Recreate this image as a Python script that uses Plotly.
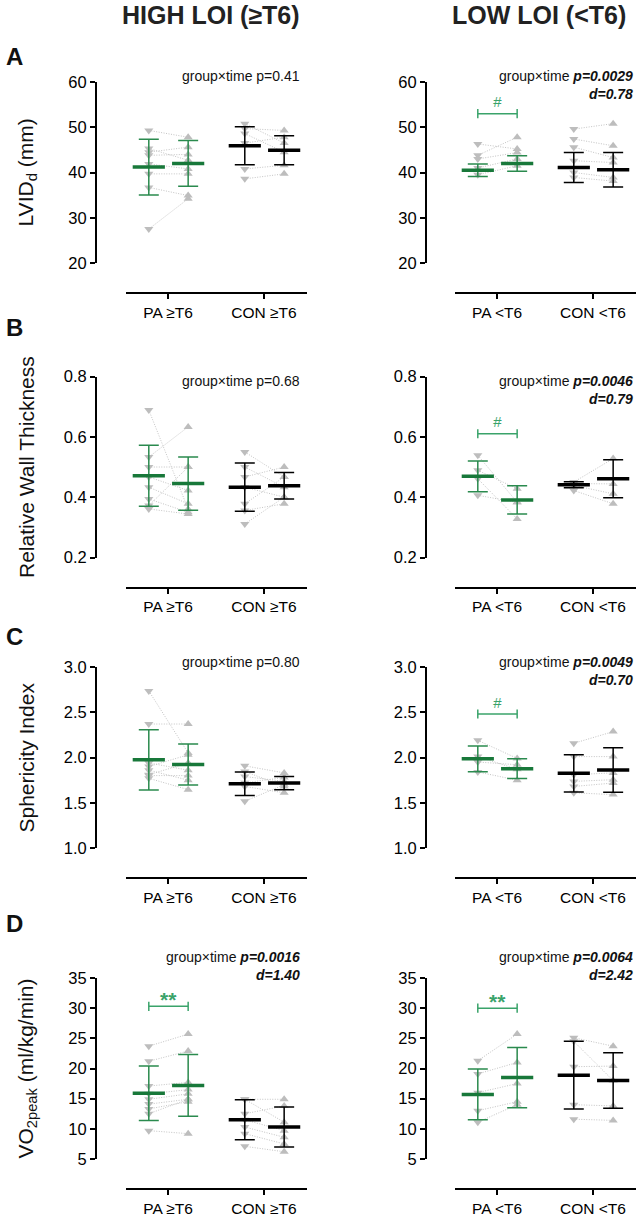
import plotly.graph_objects as go

# ---------------- data ----------------
CATEGORIES_HIGH = ["PA ≥T6", "CON ≥T6"]
CATEGORIES_LOW = ["PA <T6", "CON <T6"]
COLUMN_TITLES = ["HIGH LOI (≥T6)", "LOW LOI (<T6)"]
PANEL_LETTERS = ["A", "B", "C", "D"]
Y_TITLES = ["LVID<sub>d</sub> (mm)", "Relative Wall Thickness", "Sphericity Index",
            "VO<sub>2peak</sub> (ml/kg/min)"]

Y_RANGES = [[20, 60], [0.2, 0.8], [1.0, 3.0], [5, 35]]
Y_TICKS = [[20, 30, 40, 50, 60], [0.2, 0.4, 0.6, 0.8], [1.0, 1.5, 2.0, 2.5, 3.0],
           [5, 10, 15, 20, 25, 30, 35]]
Y_TICKFORMAT = ["d", ".1f", ".1f", "d"]

# LVIDd
LVID_HIGH_PA_PRE = [49.3, 45.3, 44.5, 43.8, 41.9, 39.7, 36.7, 27.5]
LVID_HIGH_PA_POST = [47.8, 42.7, 45.6, 44.0, 40.8, 39.7, 34.9, 34.2]
LVID_HIGH_CON_PRE = [50.8, 49.7, 48.6, 46.5, 40.8, 38.6]
LVID_HIGH_CON_POST = [46.5, 49.3, 44.5, 47.8, 41.6, 39.7]
LVID_HIGH_MEAN = [41.2, 42.0, 45.9, 44.9]
LVID_HIGH_SD = [6.15, 5.05, 4.2, 3.2]
LVID_LOW_PA_PRE = [46.3, 43.8, 43.0, 41.0, 39.5]
LVID_LOW_PA_POST = [45.2, 47.8, 44.4, 43.0, 41.5]
LVID_LOW_CON_PRE = [49.6, 47.4, 45.6, 42.6, 40.0, 38.9]
LVID_LOW_CON_POST = [50.8, 45.9, 43.3, 42.2, 38.9, 38.1]
LVID_LOW_MEAN = [40.5, 42.0, 41.1, 40.6]
LVID_LOW_SD = [1.4, 1.7, 3.3, 3.8]

# Relative wall thickness
RWT_HIGH_PA_PRE = [0.689, 0.533, 0.50, 0.467, 0.433, 0.394, 0.372, 0.361]
RWT_HIGH_PA_POST = [0.36, 0.633, 0.50, 0.422, 0.378, 0.35, 0.50, 0.344]
RWT_HIGH_CON_PRE = [0.55, 0.50, 0.467, 0.433, 0.378, 0.356, 0.311]
RWT_HIGH_CON_POST = [0.467, 0.433, 0.50, 0.40, 0.467, 0.378, 0.40]
RWT_HIGH_MEAN = [0.471, 0.445, 0.433, 0.438]
RWT_HIGH_SD = [0.101, 0.088, 0.080, 0.044]
RWT_LOW_PA_PRE = [0.539, 0.489, 0.461, 0.406]
RWT_LOW_PA_POST = [0.383, 0.428, 0.328, 0.383]
RWT_LOW_CON_PRE = [0.45, 0.445, 0.439, 0.422]
RWT_LOW_CON_POST = [0.528, 0.444, 0.411, 0.378]
RWT_LOW_MEAN = [0.469, 0.391, 0.441, 0.461]
RWT_LOW_SD = [0.051, 0.047, 0.010, 0.063]

# Sphericity index
SI_HIGH_PA_PRE = [2.736, 2.37, 1.94, 1.90, 1.86, 1.81, 1.77, 1.80]
SI_HIGH_PA_POST = [2.05, 2.37, 1.86, 2.03, 1.75, 1.94, 1.645, 1.80]
SI_HIGH_CON_PRE = [1.908, 1.846, 1.79, 1.68, 1.516, 1.72]
SI_HIGH_CON_POST = [1.83, 1.68, 1.736, 1.61, 1.70, 1.78]
SI_HIGH_MEAN = [1.975, 1.922, 1.71, 1.718]
SI_HIGH_SD = [0.333, 0.226, 0.131, 0.073]
SI_LOW_PA_PRE = [2.19, 2.01, 1.95, 1.84]
SI_LOW_PA_POST = [1.99, 1.87, 1.92, 1.75]
SI_LOW_CON_PRE = [2.157, 2.01, 1.81, 1.736, 1.68, 1.61]
SI_LOW_CON_POST = [2.286, 2.01, 1.83, 1.755, 1.718, 1.59]
SI_LOW_MEAN = [1.985, 1.877, 1.825, 1.862]
SI_LOW_SD = [0.143, 0.108, 0.206, 0.246]

# VO2peak
VO2_HIGH_PA_PRE = [23.7, 21.2, 17.1, 15.8, 14.9, 14.1, 13.3, 12.5, 9.7]
VO2_HIGH_PA_POST = [25.7, 22.9, 17.7, 16.5, 15.8, 14.9, 14.5, 14.9, 9.2]
VO2_HIGH_CON_PRE = [14.9, 14.9, 12.5, 11.5, 10.3, 9.2, 7.1]
VO2_HIGH_CON_POST = [14.9, 11.1, 13.8, 9.7, 8.6, 7.5, 6.2]
VO2_HIGH_MEAN = [15.9, 17.2, 11.5, 10.3]
VO2_HIGH_SD = [4.5, 5.1, 3.3, 3.3]
VO2_LOW_PA_PRE = [21.3, 19.1, 16.0, 13.0, 11.1]
VO2_LOW_PA_POST = [25.7, 21.0, 17.5, 14.5, 14.0]
VO2_LOW_CON_PRE = [25.1, 24.5, 20.3, 14.0, 11.6]
VO2_LOW_CON_POST = [23.7, 18.0, 20.4, 13.8, 11.4]
VO2_LOW_MEAN = [15.7, 18.5, 18.9, 18.0]
VO2_LOW_SD = [4.2, 5.0, 5.6, 4.6]

STAT_HIGH = ["group×time p=0.41", "group×time p=0.68", "group×time p=0.80",
             "group×time <b><i>p=0.0016</i></b><br><b><i>d=1.40</i></b>"]
STAT_LOW = ["group×time <b><i>p=0.0029</i></b><br><b><i>d=0.78</i></b>",
            "group×time <b><i>p=0.0046</i></b><br><b><i>d=0.79</i></b>",
            "group×time <b><i>p=0.0049</i></b><br><b><i>d=0.70</i></b>",
            "group×time <b><i>p=0.0064</i></b><br><b><i>d=2.42</i></b>"]
BRACKET_HIGH = [None, None, None, 30.3]
BRACKET_LOW = [53.0, 0.61, 2.48, 30.0]
BRACKET_MARK_HIGH = [None, None, None, "**"]
BRACKET_MARK_LOW = ["#", "#", "#", "**"]

PANELS = [
    [(LVID_HIGH_PA_PRE, LVID_HIGH_PA_POST, LVID_HIGH_CON_PRE, LVID_HIGH_CON_POST, LVID_HIGH_MEAN, LVID_HIGH_SD),
     (LVID_LOW_PA_PRE, LVID_LOW_PA_POST, LVID_LOW_CON_PRE, LVID_LOW_CON_POST, LVID_LOW_MEAN, LVID_LOW_SD)],
    [(RWT_HIGH_PA_PRE, RWT_HIGH_PA_POST, RWT_HIGH_CON_PRE, RWT_HIGH_CON_POST, RWT_HIGH_MEAN, RWT_HIGH_SD),
     (RWT_LOW_PA_PRE, RWT_LOW_PA_POST, RWT_LOW_CON_PRE, RWT_LOW_CON_POST, RWT_LOW_MEAN, RWT_LOW_SD)],
    [(SI_HIGH_PA_PRE, SI_HIGH_PA_POST, SI_HIGH_CON_PRE, SI_HIGH_CON_POST, SI_HIGH_MEAN, SI_HIGH_SD),
     (SI_LOW_PA_PRE, SI_LOW_PA_POST, SI_LOW_CON_PRE, SI_LOW_CON_POST, SI_LOW_MEAN, SI_LOW_SD)],
    [(VO2_HIGH_PA_PRE, VO2_HIGH_PA_POST, VO2_HIGH_CON_PRE, VO2_HIGH_CON_POST, VO2_HIGH_MEAN, VO2_HIGH_SD),
     (VO2_LOW_PA_PRE, VO2_LOW_PA_POST, VO2_LOW_CON_PRE, VO2_LOW_CON_POST, VO2_LOW_MEAN, VO2_LOW_SD)],
]

# ---------------- layout / style ----------------
W, H = 640, 1217
FONT = "Liberation Sans, Arial, Helvetica, sans-serif"
GREEN_MEAN = "#18783a"
GREEN_ERR = "#2a8a4e"
GREEN_BRACKET = "#3aa36a"
GRAY_PT = "#bdbdbd"
GRAY_LINE = "#c4c4c4"

COL_YAXIS_PX = [96, 426]
COL_XDOM_PX = [(126, 307), (455, 636)]
ROW_TOP_PX = [82, 376.5, 667, 978]
ROW_BOT_PX = [263, 557.5, 848, 1159]
XAXIS_GAP_PX = 30
STAT_Y_PX = [75, 380, 661, 956]
LETTER_Y_PX = [57, 327, 636, 923]
XRANGE = [0.5625, 2.448]
PRE_OFF, POST_OFF = -0.2, 0.21


def fx(p):
    return p / W


def fy(p):
    return 1 - p / H


fig = go.Figure()
layout = dict(width=W, height=H,
              margin=dict(l=0, r=0, t=0, b=0, pad=0, autoexpand=False),
              paper_bgcolor="white", plot_bgcolor="rgba(0,0,0,0)",
              showlegend=False, font=dict(family=FONT, color="black"))
annotations = []

for r in range(4):
    for c in range(2):
        k = r * 2 + c + 1
        xa, ya = ("x" if k == 1 else f"x{k}"), ("y" if k == 1 else f"y{k}")
        pa_pre, pa_post, con_pre, con_post, means, sds = PANELS[r][c]
        cats = CATEGORIES_HIGH if c == 0 else CATEGORIES_LOW

        # connecting dotted lines
        lx, ly = [], []
        for base, pre, post in ((1, pa_pre, pa_post), (2, con_pre, con_post)):
            for a, b in zip(pre, post):
                lx += [base + PRE_OFF, base + POST_OFF, None]
                ly += [a, b, None]
        fig.add_trace(go.Scatter(x=lx, y=ly, mode="lines", xaxis=xa, yaxis=ya,
                                 line=dict(color=GRAY_LINE, width=1, dash="1px,1.5px"),
                                 hoverinfo="skip"))
        # individual points
        for base, vals, sym in ((1, pa_pre, "triangle-down"), (1, pa_post, "triangle-up"),
                                (2, con_pre, "triangle-down"), (2, con_post, "triangle-up")):
            off = PRE_OFF if sym == "triangle-down" else POST_OFF
            fig.add_trace(go.Scatter(x=[base + off] * len(vals), y=vals, mode="markers",
                                     xaxis=xa, yaxis=ya,
                                     marker=dict(symbol=sym, size=8, color=GRAY_PT, line=dict(width=0))))
        # mean and SD
        positions = [1 + PRE_OFF, 1 + POST_OFF, 2 + PRE_OFF, 2 + POST_OFF]
        for i in range(4):
            is_pa = i < 2
            fig.add_trace(go.Scatter(
                x=[positions[i]], y=[means[i]], mode="markers", xaxis=xa, yaxis=ya,
                error_y=dict(type="data", array=[sds[i]], width=10, thickness=1.5,
                             color=GREEN_ERR if is_pa else "black"),
                marker=dict(symbol="line-ew", size=23,
                            line=dict(width=3.5, color=GREEN_MEAN if is_pa else "black"))))

        # significance bracket
        b = (BRACKET_HIGH if c == 0 else BRACKET_LOW)[r]
        mark = (BRACKET_MARK_HIGH if c == 0 else BRACKET_MARK_LOW)[r]
        if b is not None:
            fig.add_trace(go.Scatter(x=[1 + PRE_OFF, 1 + POST_OFF], y=[b, b], mode="lines+markers",
                                     xaxis=xa, yaxis=ya,
                                     line=dict(color=GREEN_BRACKET, width=1.5),
                                     marker=dict(symbol="line-ns", size=6.5,
                                                 line=dict(width=1.5, color=GREEN_BRACKET))))
            if mark == "#":
                annotations.append(dict(x=1 + (PRE_OFF + POST_OFF) / 2, y=b, xref=xa, yref=ya,
                                        text="<i>#</i>", showarrow=False, yshift=12,
                                        font=dict(size=15, color=GREEN_BRACKET)))
            else:
                annotations.append(dict(x=1 + (PRE_OFF + POST_OFF) / 2, y=b, xref=xa, yref=ya,
                                        text="<b>**</b>", showarrow=False, yshift=7,
                                        font=dict(size=21, color=GREEN_BRACKET)))

        xdom = COL_XDOM_PX[c]
        layout["xaxis" if k == 1 else f"xaxis{k}"] = dict(
            domain=[fx(xdom[0]), fx(xdom[1])], range=XRANGE, anchor="free",
            position=fy(ROW_BOT_PX[r] + XAXIS_GAP_PX), automargin=False,
            tickmode="array", tickvals=[1, 2], ticktext=cats,
            showline=True, linecolor="black", linewidth=2, ticks="outside",
            ticklen=5, tickwidth=2, tickcolor="black", showgrid=False, zeroline=False,
            tickfont=dict(size=15.5, family=FONT, color="black"), fixedrange=True)
        layout["yaxis" if k == 1 else f"yaxis{k}"] = dict(
            domain=[fy(ROW_BOT_PX[r]), fy(ROW_TOP_PX[r])], range=Y_RANGES[r], anchor="free",
            position=fx(COL_YAXIS_PX[c]), automargin=False, tickmode="array",
            tickvals=Y_TICKS[r], tickformat=Y_TICKFORMAT[r],
            showline=True, linecolor="black", linewidth=2, ticks="outside",
            ticklen=5, tickwidth=2, tickcolor="black", showgrid=False, zeroline=False,
            tickfont=dict(size=16.5, family=FONT, color="black"), fixedrange=True)

        # stats text
        stat = (STAT_HIGH if c == 0 else STAT_LOW)[r]
        annotations.append(dict(x=fx(302 if c == 0 else 635), y=fy(STAT_Y_PX[r] - 9),
                                xref="paper", yref="paper", xanchor="right", yanchor="top",
                                align="right", text=stat, showarrow=False,
                                font=dict(size=14, family=FONT, color="#111111")))

    # panel letter and y title
    annotations.append(dict(x=fx(14), y=fy(LETTER_Y_PX[r]), xref="paper", yref="paper",
                            text=f"<b>{PANEL_LETTERS[r]}</b>", showarrow=False,
                            xanchor="center", yanchor="middle",
                            font=dict(size=24, family=FONT, color="#111111")))
    annotations.append(dict(x=fx(26), y=fy((ROW_TOP_PX[r] + ROW_BOT_PX[r]) / 2),
                            xref="paper", yref="paper", text=Y_TITLES[r], textangle=-90,
                            showarrow=False, xanchor="center", yanchor="middle",
                            font=dict(size=21, family=FONT, color="#111111")))

for c, cx in enumerate([211, 539]):
    annotations.append(dict(x=fx(cx), y=fy(15), xref="paper", yref="paper",
                            text=f"<b>{COLUMN_TITLES[c]}</b>", showarrow=False,
                            xanchor="center", yanchor="middle",
                            font=dict(size=25, family=FONT, color="#222222")))

layout["annotations"] = annotations
fig.update_layout(**layout)
fig.write_html("out.html", config={"displayModeBar": False},
               post_script="document.body.style.margin='0';"
                           "document.documentElement.style.overflow='hidden';"
                           "document.body.style.overflow='hidden';")
